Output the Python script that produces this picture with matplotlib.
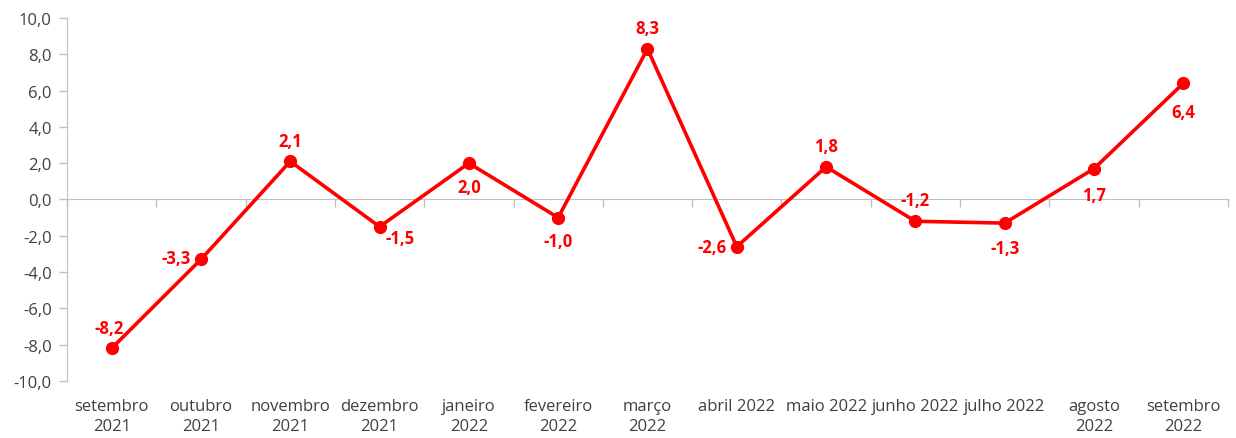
import matplotlib.pyplot as plt
from matplotlib.ticker import FuncFormatter

months = ["setembro\n2021", "outubro\n2021", "novembro\n2021", "dezembro\n2021",
          "janeiro\n2022", "fevereiro\n2022", "março\n2022", "abril 2022",
          "maio 2022", "junho 2022", "julho 2022", "agosto\n2022", "setembro\n2022"]
values = [-8.2, -3.3, 2.1, -1.5, 2.0, -1.0, 8.3, -2.6, 1.8, -1.2, -1.3, 1.7, 6.4]

# label offsets in points (dx, dy)
offsets = [(-2, 15), (-18, 1), (0, 15), (15, -8), (0, -17), (0, -17), (0, 15),
           (-18, 0), (0, 15), (0, 15), (0, -18), (0, -19), (0, -21)]

plt.rcParams['font.family'] = ['Open Sans', 'DejaVu Sans']

fig = plt.figure(figsize=(12.36, 4.39), dpi=100)
ax = fig.add_axes([0.0542, 0.1298, 0.9393, 0.827])

x = range(len(values))
ax.plot(x, values, color="#FF0000", lw=2.6, marker="o", ms=8.5, zorder=3)

for i, v in enumerate(values):
    ax.annotate(f"{v:.1f}".replace(".", ","), (i, v), xytext=offsets[i],
                textcoords="offset points", ha="center", va="center",
                color="#FF0000", fontweight="bold", fontsize=12)

ax.set_xlim(-0.5, len(values) - 0.5)
ax.set_ylim(-10, 10)
ax.set_yticks(range(-10, 11, 2))
ax.yaxis.set_major_formatter(FuncFormatter(lambda v, p: f"{v:.1f}".replace(".", ",")))
ax.tick_params(axis="y", colors="#BFBFBF", labelcolor="#404040", labelsize=12,
               length=6, width=1, pad=5)

for s in ["top", "right"]:
    ax.spines[s].set_visible(False)
ax.spines["left"].set_color("#BFBFBF")
ax.spines["bottom"].set_position(("data", 0))
ax.spines["bottom"].set_color("#BFBFBF")

ax.set_xticks([i + 0.5 for i in range(-1, len(values))])
ax.set_xticklabels([])
ax.tick_params(axis="x", colors="#BFBFBF", length=6, width=1, direction="out")

sec = ax.secondary_xaxis(0)
sec.set_xticks(list(x))
sec.set_xticklabels(months, linespacing=1.35)
sec.spines["bottom"].set_visible(False)
sec.tick_params(length=0, pad=12, labelsize=12, labelcolor="#404040")

fig.savefig("out.png", dpi=100)
